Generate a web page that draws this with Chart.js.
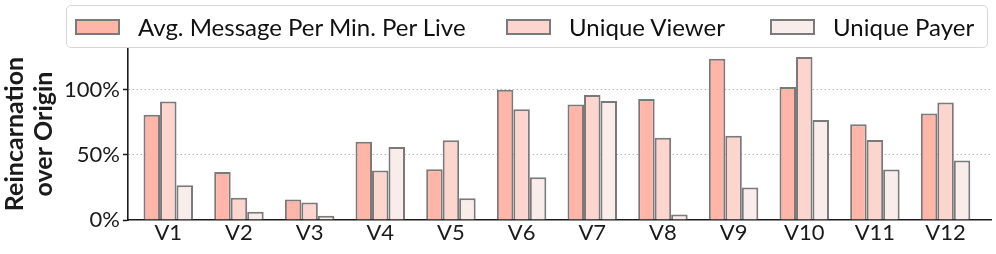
<!DOCTYPE html>
<html>
<head>
<meta charset="utf-8">
<script src="https://cdn.jsdelivr.net/npm/chart.js@4"></script>
<style>
    body { margin: 0; background: #fff; }
    #wrap { position: relative; width: 996px; height: 254px; font-family: Lato, sans-serif; }
    #legend { position: absolute; left: 66px; top: 5px; width: 920px; height: 41px; border: 1px solid #d6d6d6; border-radius: 5px; background: rgba(255,255,255,0.85); }
    .legend-item { position: absolute; top: 0; height: 41px; display: flex; align-items: center; font-size: 24px; color: #111; white-space: nowrap; }
    .swatch { box-sizing: border-box; width: 45px; height: 16px; border: 2px solid #7a7a7a; margin-right: 18px; }
</style>
</head>
<body>
<div id="wrap">
    <canvas id="chart" width="996" height="254"></canvas>
    <div id="legend"></div>
</div>
<script>
const categories = ['V1', 'V2', 'V3', 'V4', 'V5', 'V6', 'V7', 'V8', 'V9', 'V10', 'V11', 'V12'];
const seriesNames = ['Avg. Message Per Min. Per Live', 'Unique Viewer', 'Unique Payer'];
const avgMessage = [80.7, 36.9, 15.8, 60, 39, 100, 88.6, 92.8, 123.7, 102, 73.5, 81.7];
const uniqueViewer = [91, 17.1, 13.5, 38, 61.2, 85, 96, 63.2, 64.7, 125, 61.4, 90.2];
const uniquePayer = [26.6, 6.3, 3.2, 56, 16.6, 32.8, 91.3, 4.2, 24.9, 76.8, 38.8, 45.7];
const yTicks = [0, 50, 100];

const seriesColors = ['#ffb5a7', '#fcd5ce', '#f8edeb'];
const legendLefts = [8, 439, 703]; // px inside the legend frame
const edge = '#7a7a7a';
const ink = '#1a1a1a';

const seriesData = [avgMessage, uniqueViewer, uniquePayer];

// html legend, matplotlib style frame
const legend = document.querySelector('#legend');
seriesNames.forEach((name, i) => {
    const item = document.createElement('div');
    item.className = 'legend-item';
    item.style.left = legendLefts[i] + 'px';
    const sw = document.createElement('span');
    sw.className = 'swatch';
    sw.style.backgroundColor = seriesColors[i];
    const txt = document.createElement('span');
    txt.textContent = name;
    item.appendChild(sw);
    item.appendChild(txt);
    legend.appendChild(item);
});

new Chart('chart', {
    type: 'bar',
    data: {
        labels: categories.map((c, i) => i),
        datasets: seriesNames.map((name, i) => ({
            label: name,
            data: seriesData[i],
            backgroundColor: seriesColors[i],
            borderColor: edge,
            borderWidth: 2,
            categoryPercentage: 0.7,
            barPercentage: 1
        }))
    },
    options: {
        responsive: false,
        animation: false,
        layout: { padding: { top: 48, right: 4.5, left: 0, bottom: 0 } },
        plugins: {
            legend: { display: false },
            tooltip: { enabled: false }
        },
        scales: {
            x: {
                type: 'linear',
                offset: false,
                min: -0.57,
                max: 11.65,
                afterBuildTicks: scale => { scale.ticks = categories.map((c, i) => ({ value: i })); },
                afterFit: scale => { scale.height = 34; },
                grid: { display: false, drawTicks: false },
                border: { display: true, color: ink, width: 1.6 },
                ticks: {
                    padding: 0,
                    color: ink,
                    font: { family: 'Lato', size: 22 },
                    maxRotation: 0,
                    autoSkip: false,
                    callback: value => categories[value]
                }
            },
            y: {
                min: 0,
                max: 132,
                afterBuildTicks: scale => { scale.ticks = yTicks.map(v => ({ value: v })); },
                afterFit: scale => { scale.width = 128; },
                grid: {
                    color: ctx => ctx.tick && ctx.tick.value === 0 ? 'rgba(0,0,0,0)' : '#b5b5b5',
                    lineWidth: 1,
                    tickColor: ink,
                    tickLength: 5,
                    tickWidth: 1.5,
                    tickBorderDash: []
                },
                border: { display: true, color: ink, width: 1.6, dash: [1.5, 2.5] },
                ticks: {
                    padding: 3,
                    color: ink,
                    font: { family: 'Lato', size: 22 },
                    callback: value => value + '%'
                },
                title: {
                    display: true,
                    text: ['Reincarnation', 'over Origin'],
                    color: ink,
                    font: { family: 'Lato', size: 25, weight: 'bold', lineHeight: 1.16 },
                    padding: { top: 0, bottom: 0 }
                }
            }
        }
    }
});
</script>
</body>
</html>
